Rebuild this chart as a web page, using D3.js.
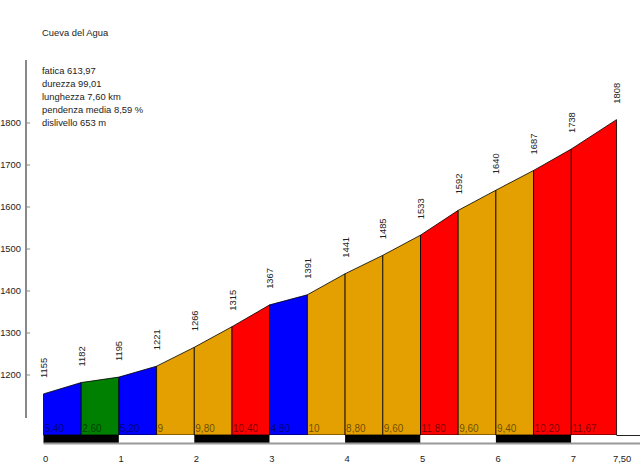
<!DOCTYPE html>
<html lang="en">
<head>
<meta charset="UTF-8">
<title>Cueva del Agua</title>
<script src="https://d3js.org/d3.v7.min.js"></script>
<style>
    body { margin: 0; background: #fff; }
    text { font-family: "Liberation Sans", Arial, sans-serif; font-size: 9.4px; fill: #222; }
    .seg { stroke: #000; stroke-width: 0.8px; }
    .axis { stroke: #888; stroke-width: 2px; }
</style>
</head>
<body>
<script>
    // profile data
    const title = "Cueva del Agua";
    const info = ["fatica 613,97", "durezza 99,01", "lunghezza 7,60 km", "pendenza media 8,59 %", "dislivello 653 m"];
    const distances = [0, 0.5, 1, 1.5, 2, 2.5, 3, 3.5, 4, 4.5, 5, 5.5, 6, 6.5, 7, 7.6];
    const elevations = [1155, 1182, 1195, 1221, 1266, 1315, 1367, 1391, 1441, 1485, 1533, 1592, 1640, 1687, 1738, 1808];
    const slopes = [5.4, 2.6, 5.2, 9, 9.8, 10.4, 4.8, 10, 8.8, 9.6, 11.8, 9.6, 9.4, 10.2, 11.67];
    const yTicks = [1200, 1300, 1400, 1500, 1600, 1700, 1800];
    const xTicks = [0, 1, 2, 3, 4, 5, 6, 7, 7.5];

    const W = 640, H = 469;
    const baseY = 435;

    const x = d3.scaleLinear().domain([0, 7]).range([43.5, 571.3]);
    const y = d3.scaleLinear().domain([1200, 1800]).range([375, 123]);
    const color = d3.scaleThreshold().domain([3, 6, 10.1])
        .range(["#008000", "#0000ff", "#e3a000", "#ff0000"]);

    const fmt = v => Number.isInteger(v) ? String(v) : v.toFixed(2).replace(".", ",");

    const svg = d3.select("body").append("svg")
        .attr("width", W).attr("height", H);

    svg.append("text").attr("x", 42).attr("y", 36).text(title);

    svg.selectAll("text.info").data(info).enter().append("text")
        .attr("class", "info")
        .attr("x", 42)
        .attr("y", (d, i) => 74 + i * 13.1)
        .text(d => d);

    // y axis
    svg.append("line").attr("class", "axis")
        .attr("x1", 26).attr("x2", 26).attr("y1", 60).attr("y2", 418);
    const yt = svg.selectAll("g.ytick").data(yTicks).enter().append("g")
        .attr("transform", d => "translate(0," + y(d) + ")");
    yt.append("line").attr("x1", 26).attr("x2", 30)
        .attr("stroke", "#888").attr("stroke-width", 1);
    yt.append("text").attr("x", 21).attr("dy", "0.35em")
        .attr("text-anchor", "end").text(d => d);

    // segments
    const segs = slopes.map((s, i) => ({
        s: s,
        d0: distances[i], d1: distances[i + 1],
        e0: elevations[i], e1: elevations[i + 1]
    }));

    svg.selectAll("path.seg").data(segs).enter().append("path")
        .attr("class", "seg")
        .attr("fill", d => color(d.s))
        .attr("d", d => "M" + x(d.d0) + "," + baseY +
            "L" + x(d.d0) + "," + y(d.e0) +
            "L" + x(d.d1) + "," + y(d.e1) +
            "L" + x(d.d1) + "," + baseY + "Z");

    svg.selectAll("text.slope").data(segs).enter().append("text")
        .attr("class", "slope")
        .attr("x", d => x(d.d0) + 1)
        .attr("y", 432)
        .style("font-size", "10px")
        .style("fill", "#000").style("fill-opacity", 0.55)
        .text(d => fmt(d.s));

    // elevation labels
    svg.selectAll("text.elev").data(elevations).enter().append("text")
        .attr("class", "elev")
        .attr("transform", (d, i) => "translate(" + (x(distances[i]) + 3.5) + "," + (y(d) - 16) + ") rotate(-90)")
        .text(d => d);

    // km bar
    const kms = d3.range(0, 8).map(k => ({ a: k, b: Math.min(k + 1, 7.6) }));
    svg.selectAll("rect.km").data(kms).enter().append("rect")
        .attr("x", d => x(d.a))
        .attr("width", d => x(d.b) - x(d.a))
        .attr("y", baseY).attr("height", 8)
        .attr("fill", d => d.a % 2 === 0 ? "#000" : "#fff");

    svg.append("line").attr("x1", x(7.6)).attr("x2", W)
        .attr("y1", baseY + 0.5).attr("y2", baseY + 0.5)
        .attr("stroke", "#222").attr("stroke-width", 1);
    svg.append("line").attr("x1", x(0)).attr("x2", W)
        .attr("y1", 443.5).attr("y2", 443.5)
        .attr("stroke", "#999").attr("stroke-width", 2);

    svg.selectAll("text.xtick").data(xTicks).enter().append("text")
        .attr("class", "xtick")
        .attr("x", d => x(d) + (Number.isInteger(d) ? -0.5 : 4))
        .attr("y", 462)
        .text(d => Number.isInteger(d) ? d : d.toFixed(2).replace(".", ","));
</script>
</body>
</html>
